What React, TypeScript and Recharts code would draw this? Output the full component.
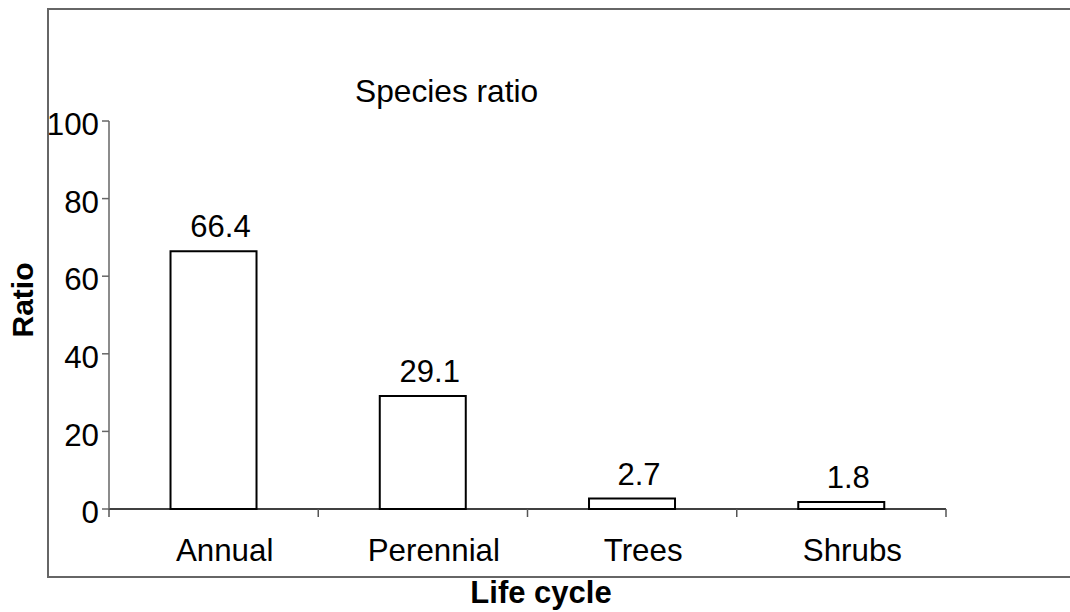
import { BarChart, Bar, XAxis, YAxis, LabelList, Customized } from "recharts";

const lifeCycles = ["Annual", "Perennial", "Trees", "Shrubs"];
const ratios = [66.4, 29.1, 2.7, 1.8];
const yTicks = [0, 20, 40, 60, 80, 100];

const data = lifeCycles.map((name, i) => ({ name, value: ratios[i] }));

const FONT = "'Liberation Sans', Arial, sans-serif";
const FS = 31.3;

// category label in the middle, tick marks on the band edges
function BandTick(props: any) {
  const { x, y, payload, index, visibleTicksCount } = props;
  const off = payload.offset || 0;
  const last = index === visibleTicksCount - 1;
  return (
    <g>
      <line x1={x - off} y1={y} x2={x - off} y2={y + 8} stroke="#555" strokeWidth={1.5} />
      {last && <line x1={x + off} y1={y} x2={x + off} y2={y + 8} stroke="#555" strokeWidth={1.5} />}
      <text x={x + 11} y={y + 52} textAnchor="middle" fontSize={FS} fontFamily={FONT} fill="#000">
        {payload.value}
      </text>
    </g>
  );
}

function Titles() {
  return (
    <g fontFamily={FONT} fill="#000">
      <text x={355} y={102} fontSize={31.7}>
        Species ratio
      </text>
      <text
        x={33}
        y={300}
        transform="rotate(-90 33 300)"
        textAnchor="middle"
        fontSize={30}
        fontWeight="bold"
      >
        Ratio
      </text>
      <text x={541} y={603} textAnchor="middle" fontSize={31} fontWeight="bold">
        Life cycle
      </text>
    </g>
  );
}

export default function App() {
  return (
    <div
      style={{
        position: "absolute",
        left: 0,
        top: 0,
        width: 1070,
        height: 612,
        overflow: "hidden",
        background: "#fff",
        fontFamily: FONT,
      }}
    >
      {/* outer chart frame, open past the right edge */}
      <div
        style={{
          position: "absolute",
          left: 47,
          top: 8,
          width: 1100,
          height: 570,
          border: "2px solid #666",
          boxSizing: "border-box",
        }}
      />
      <BarChart
        width={1070}
        height={612}
        data={data}
        margin={{ top: 121, right: 124, bottom: 43, left: 49 }}
        barCategoryGap="29.4%"
        style={{ position: "absolute", left: 0, top: 0 }}
      >
        <XAxis
          dataKey="name"
          height={60}
          axisLine={{ stroke: "#000", strokeWidth: 1.5 }}
          tickLine={false}
          tickSize={0}
          tickMargin={0}
          interval={0}
          tick={<BandTick />}
        />
        <YAxis
          width={60}
          domain={[0, 100]}
          ticks={yTicks}
          interval={0}
          axisLine={{ stroke: "#666", strokeWidth: 1.5 }}
          tickLine={{ stroke: "#666", strokeWidth: 1.5 }}
          tickSize={7}
          tickMargin={3}
          tick={{ fontSize: FS, fill: "#000", fontFamily: FONT, dy: 3 }}
        />
        <Bar dataKey="value" fill="#fff" stroke="#000" strokeWidth={2} isAnimationActive={false}>
          <LabelList
            dataKey="value"
            position="top"
            offset={14}
            dx={7}
            fill="#000"
            fontSize={31}
            fontFamily={FONT}
          />
        </Bar>
        <Customized component={Titles} />
      </BarChart>
    </div>
  );
}
